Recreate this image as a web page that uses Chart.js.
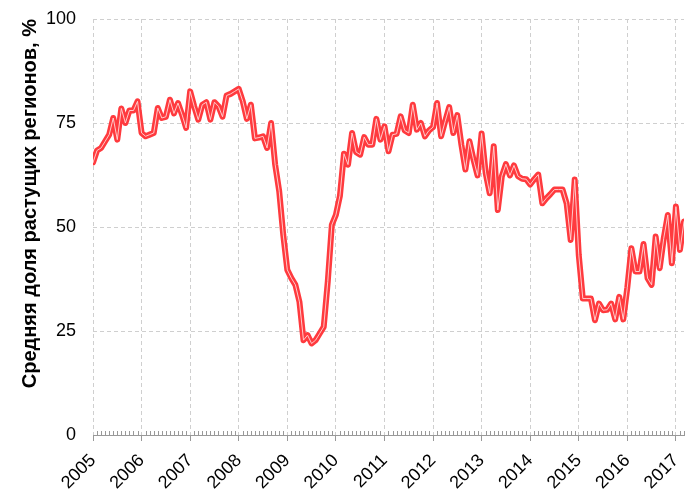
<!DOCTYPE html>
<html>
<head>
<meta charset="utf-8">
<script src="https://cdn.jsdelivr.net/npm/chart.js@4"></script>
<style>
  body { margin: 0; background: #fff; }
</style>
</head>
<body>
<canvas id="chart" width="686" height="489"></canvas>
<script>
// monthly values, Jan 2005 .. Mar 2017
const startYear = 2005;
const values = [
  65.5, 68.4, 69, 70.6, 72.2, 76.2, 71, 78.5, 75, 78, 78, 80.2,
  72.6, 71.8, 72.2, 72.6, 78.6, 76.2, 76.5, 80.6, 77.3, 79.8, 77, 73.8,
  82.6, 79, 75.8, 79.4, 80, 75.8, 80, 79, 76.5, 81.6, 82, 82.6,
  83.2, 80.2, 76, 79.4, 71.3, 71.5, 71.8, 69, 75, 65, 58.6, 48.1,
  39.7, 37.7, 36.1, 32, 22.8, 24, 22, 22.8, 24.4, 26, 36.9, 50.5,
  52.9, 57.5, 67.6, 65, 72.6, 68, 67.4, 71.6, 69.8, 69.8, 76, 71,
  74.2, 68.2, 72.2, 72.4, 76.6, 73.2, 72.6, 79.4, 73.4, 75, 71.8, 73.2,
  74, 79.8, 71.8, 75.4, 78.8, 72.6, 76.9, 69.8, 63.8, 70.6, 66.2, 62.4,
  72.5, 63, 58.1, 69.4, 54.1, 62.2, 65.1, 62.4, 64.8, 62.2, 61.6, 61.5,
  60.2, 61.5, 62.6, 55.7, 56.9, 57.9, 59, 59, 59, 55.7, 46.9, 61.4,
  43.3, 32.8, 32.8, 32.8, 27.6, 31.6, 30, 30.1, 31.6, 27.8, 33.2, 27.8,
  35.5, 44.9, 39.3, 39.3, 45.9, 37.7, 36.1, 47.7, 40.1, 47.3, 52.9, 41.3,
  54.9, 44.5, 51.3
];
const yTicks = [0, 25, 50, 75, 100];
const xMin = 2005, xMax = 2017 + 2 / 12;
const yTitle = 'Средняя доля растущих регионов, %';

const points = values.map((v, i) => ({ x: startYear + i / 12, y: v }));

const FONT = "'Liberation Sans', Arial, sans-serif";

// small monthly ticks on the x axis
const minorTicks = {
  id: 'minorTicks',
  afterDraw(chart) {
    const xs = chart.scales.x;
    const ctx = chart.ctx;
    const y = chart.chartArea.bottom;
    ctx.save();
    ctx.strokeStyle = '#999';
    ctx.lineWidth = 1;
    ctx.beginPath();
    for (let m = 1; startYear + m / 12 <= xMax + 1e-6; m++) {
      if (m % 12 === 0) continue;
      const px = Math.round(xs.getPixelForValue(startYear + m / 12)) + 0.5;
      ctx.moveTo(px, y);
      ctx.lineTo(px, y - 4);
    }
    ctx.stroke();
    ctx.restore();
  }
};

const lineStyle = {
  pointRadius: 0,
  tension: 0,
  borderJoinStyle: 'round',
  borderCapStyle: 'round'
};

new Chart(document.getElementById('chart'), {
  type: 'line',
  data: {
    datasets: [
      Object.assign({ data: points, borderColor: 'rgba(255,210,210,0.95)', borderWidth: 1 }, lineStyle),
      Object.assign({ data: points, borderColor: '#ff3a3e', borderWidth: 6 }, lineStyle)
    ]
  },
  options: {
    responsive: false,
    animation: false,
    layout: { padding: { top: 19, right: 2, left: 0, bottom: 0 } },
    plugins: { legend: { display: false }, tooltip: { enabled: false } },
    scales: {
      x: {
        type: 'linear',
        min: xMin,
        max: xMax,
        afterFit(s) { s.height = 54; s.paddingRight = 0; s.paddingLeft = 0; },
        ticks: {
          stepSize: 1,
          includeBounds: false,
          autoSkip: false,
          maxRotation: 45,
          minRotation: 45,
          padding: 9,
          color: '#000',
          font: { family: FONT, size: 18 },
          callback: v => String(v)
        },
        grid: {
          color: '#cfcfcf',
          tickColor: '#999',
          tickLength: 6
        },
        border: { display: true, color: '#999', width: 1, dash: [4, 3] }
      },
      y: {
        min: 0,
        max: 100,
        afterFit(s) { s.width = 93; },
        afterBuildTicks(s) { s.ticks = yTicks.map(v => ({ value: v })); },
        ticks: {
          padding: 0,
          color: '#000',
          font: { family: FONT, size: 18 }
        },
        grid: { color: '#cfcfcf', drawTicks: true, tickLength: 17, tickColor: 'rgba(0,0,0,0)' },
        border: { display: false, dash: [4, 3] },
        title: {
          display: true,
          text: yTitle,
          align: 'end',
          color: '#000',
          padding: { top: 18, bottom: 0 },
          font: { family: FONT, size: 20, weight: 'bold' }
        }
      }
    }
  },
  plugins: [minorTicks]
});
</script>
</body>
</html>
